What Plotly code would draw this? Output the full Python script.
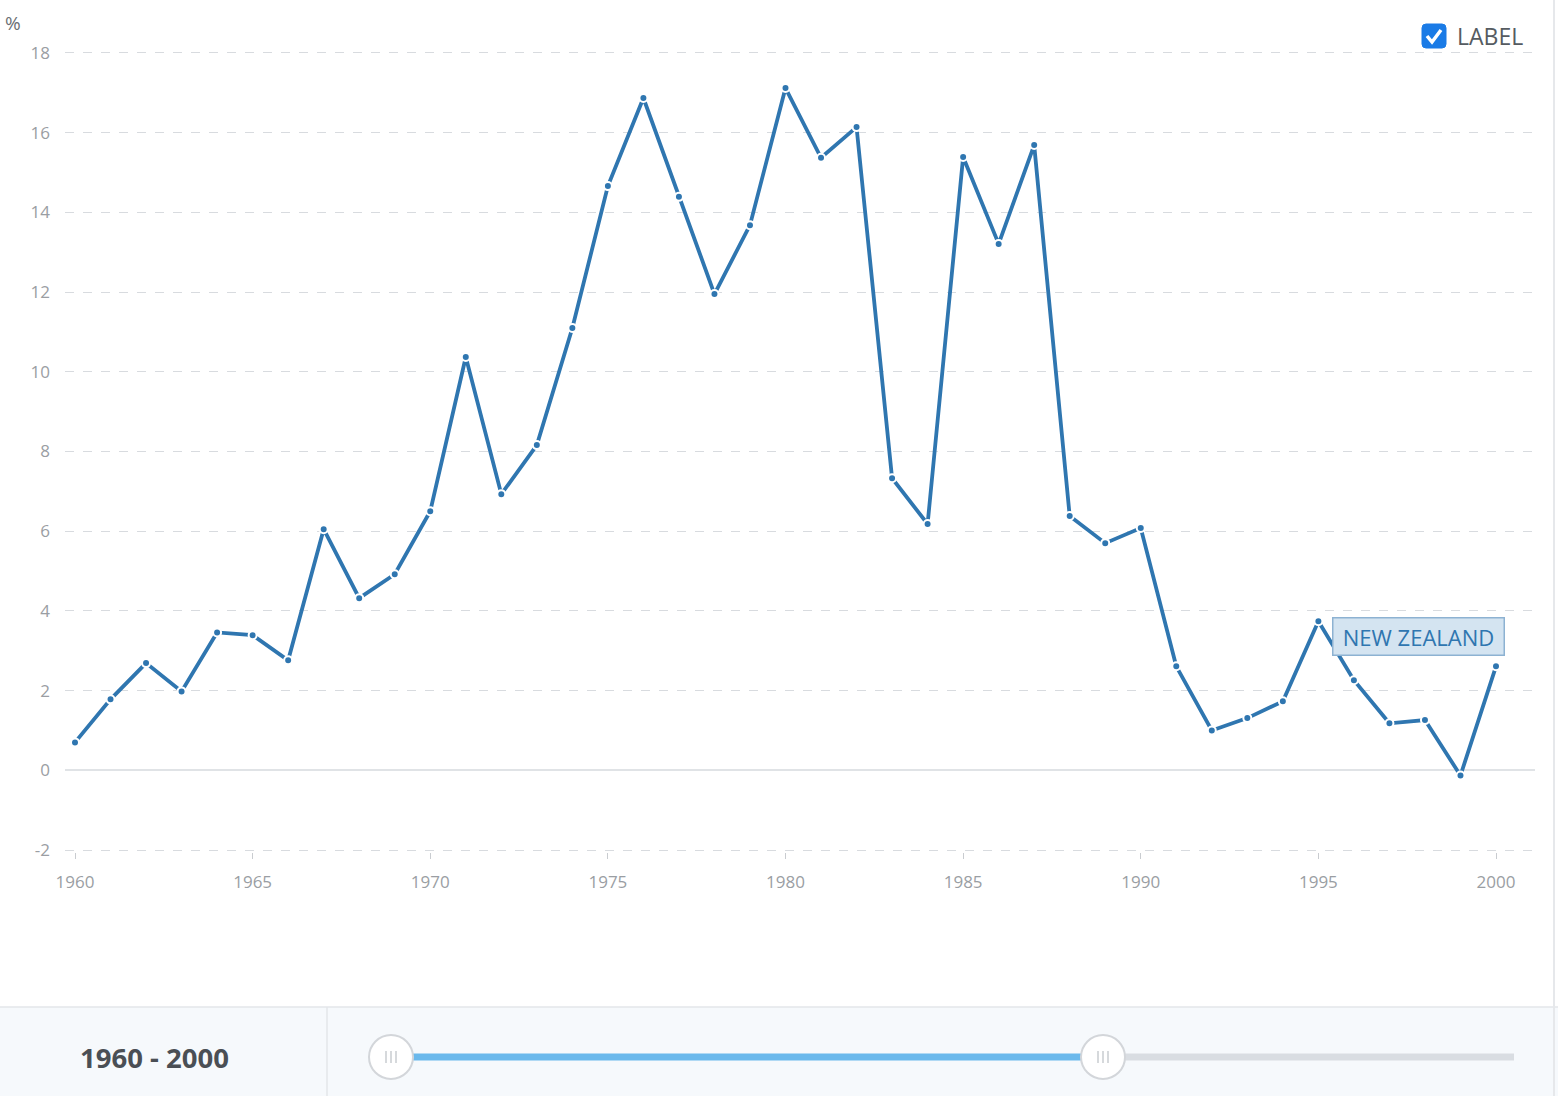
import plotly.graph_objects as go

years = list(range(1960, 2001))
values = [0.70, 1.78, 2.69, 1.98, 3.46, 3.39, 2.76, 6.05, 4.32, 4.92,
          6.50, 10.37, 6.93, 8.16, 11.10, 14.66, 16.87, 14.39, 11.95, 13.68,
          17.12, 15.37, 16.14, 7.33, 6.18, 15.39, 13.21, 15.69, 6.38, 5.70,
          6.08, 2.61, 1.00, 1.31, 1.73, 3.74, 2.26, 1.18, 1.26, -0.13, 2.61]
series_name = "NEW ZEALAND"
y_ticks = [-2, 0, 2, 4, 6, 8, 10, 12, 14, 16, 18]
x_ticks = [1960, 1965, 1970, 1975, 1980, 1985, 1990, 1995, 2000]
range_label = "1960 - 2000"
legend_label = "LABEL"
unit_label = "%"

W, H = 1558, 1096
L, R, T, B = 65, 1535, 51, 852
FONT = "Open Sans"
LINE = "#2f76b0"

def px(x):
    return (x - L) / (R - L)

def py(y):
    return (B - y) / (B - T)

fig = go.Figure()
fig.add_trace(go.Scatter(
    x=years, y=values, mode="lines+markers", name=series_name,
    line=dict(color=LINE, width=3.8),
    marker=dict(color=LINE, size=8, line=dict(color="white", width=2)),
    showlegend=False, hoverinfo="x+y",
))

shapes = []
annotations = []

# bottom slider panel
shapes.append(dict(type="rect", xref="paper", yref="paper",
                   x0=px(-2), x1=px(W + 2), y0=py(1007), y1=py(H + 5),
                   fillcolor="#f6f9fc", line=dict(width=0), layer="below"))
shapes.append(dict(type="line", xref="paper", yref="paper",
                   x0=px(0), x1=px(W), y0=py(1007), y1=py(1007),
                   line=dict(color="#e3e6ea", width=1.5)))
shapes.append(dict(type="line", xref="paper", yref="paper",
                   x0=px(327), x1=px(327), y0=py(1007), y1=py(H),
                   line=dict(color="#e3e6ea", width=1.5)))
# right border
shapes.append(dict(type="line", xref="paper", yref="paper",
                   x0=px(1554), x1=px(1554), y0=py(0), y1=py(H),
                   line=dict(color="#e6e8eb", width=2)))
# slider track
shapes.append(dict(type="line", xref="paper", yref="paper",
                   x0=px(1103), x1=px(1514), y0=py(1057), y1=py(1057),
                   line=dict(color="#d9dde2", width=7)))
shapes.append(dict(type="line", xref="paper", yref="paper",
                   x0=px(391), x1=px(1103), y0=py(1057), y1=py(1057),
                   line=dict(color="#6bb9ec", width=7)))
for hx in (391, 1103):
    r = 22
    shapes.append(dict(type="circle", xref="paper", yref="paper",
                       x0=px(hx - r), x1=px(hx + r), y0=py(1057 - r), y1=py(1057 + r),
                       fillcolor="white", line=dict(color="#d3d6da", width=2)))
    for dx in (-5, 0, 5):
        shapes.append(dict(type="line", xref="paper", yref="paper",
                           x0=px(hx + dx), x1=px(hx + dx), y0=py(1051), y1=py(1063),
                           line=dict(color="#c8ccd0", width=1.5)))

annotations.append(dict(text="<b>" + range_label + "</b>", xref="paper", yref="paper",
                        x=px(154), y=py(1057), showarrow=False,
                        font=dict(family=FONT, size=27.5, color="#4a4f55"),
                        xanchor="center", yanchor="middle"))
# legend checkbox (rounded)
x0, x1, y0, y1, rr = 1422, 1446, 24, 48, 4
box = ("M {a} {b} L {c} {b} Q {d} {b} {d} {e} L {d} {f} Q {d} {g} {c} {g} "
       "L {a} {g} Q {h} {g} {h} {f} L {h} {e} Q {h} {b} {a} {b} Z").format(
    a=px(x0 + rr), b=py(y0), c=px(x1 - rr), d=px(x1), e=py(y0 + rr),
    f=py(y1 - rr), g=py(y1), h=px(x0))
shapes.append(dict(type="path", xref="paper", yref="paper", path=box,
                   fillcolor="#1a7be6", line=dict(color="#1a7be6", width=1)))
shapes.append(dict(type="path", xref="paper", yref="paper",
                   path="M {} {} L {} {} L {} {}".format(px(1427), py(36), px(1432), py(42), px(1441), py(30)),
                   line=dict(color="white", width=3.5)))
annotations.append(dict(text=legend_label, xref="paper", yref="paper",
                        x=px(1455), y=py(36), showarrow=False,
                        font=dict(family=FONT, size=23, color="#555b61"),
                        xanchor="left", yanchor="middle"))
annotations.append(dict(text=unit_label, xref="paper", yref="paper",
                        x=px(3), y=py(23), showarrow=False,
                        font=dict(family=FONT, size=19, color="#6b6f74"),
                        xanchor="left", yanchor="middle"))
annotations.append(dict(text=series_name, x=years[35] + 0.38, y=3.36,
                        xref="x", yref="y", showarrow=False,
                        xanchor="left", yanchor="middle",
                        width=160, height=26, align="center",
                        font=dict(family=FONT, size=22, color="#2f76b0"),
                        bgcolor="#d4e4f1", bordercolor="#8db2d2", borderwidth=1.5,
                        borderpad=5))

fig.update_layout(
    width=W, height=H,
    margin=dict(l=L, r=W - R, t=T, b=H - B, pad=0),
    paper_bgcolor="white", plot_bgcolor="white",
    font=dict(family=FONT, color="#9a9ea3"),
    shapes=shapes, annotations=annotations,
    xaxis=dict(range=[1960 - 10 / 35.525, 2000 + 39 / 35.525],
               tickvals=x_ticks, ticktext=[str(v) for v in x_ticks],
               showgrid=False, zeroline=False, showline=False,
               ticks="outside", ticklen=6, tickwidth=1, tickcolor="#c9ccd0",
               tickfont=dict(family=FONT, size=17, color="#9a9ea3"),
               ticklabelstandoff=9, fixedrange=True),
    yaxis=dict(range=[-2.05, 18.05], tickvals=y_ticks, ticktext=[str(v) for v in y_ticks],
               showgrid=True, gridcolor="#d8dbdf", griddash="dash", gridwidth=1.2,
               zeroline=True, zerolinecolor="#e0e3e6", zerolinewidth=1.5,
               showline=False, ticks="",
               tickfont=dict(family=FONT, size=17, color="#9a9ea3"),
               ticklabelstandoff=14, fixedrange=True),
)

fig.write_html("out.html", config={"displayModeBar": False},
               post_script="document.body.style.margin='0';document.body.style.overflow='hidden';")
